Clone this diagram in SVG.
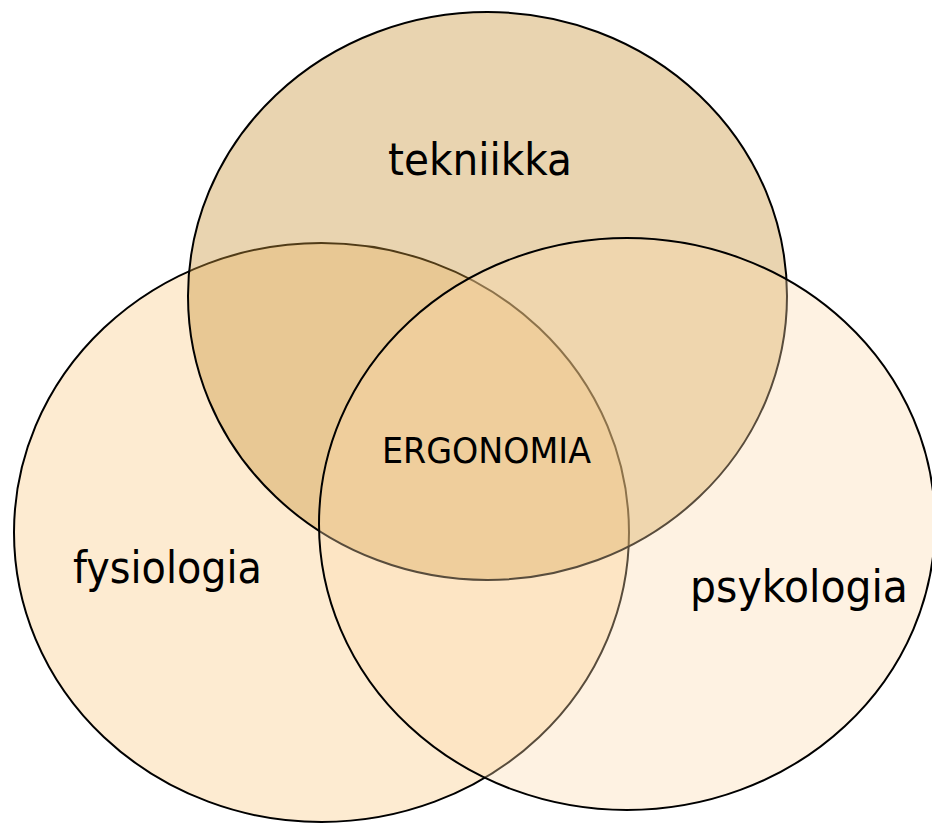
<svg xmlns="http://www.w3.org/2000/svg" width="932" height="824" viewBox="0 0 932 824">
<style>
.c{stroke:#000;stroke-width:2}
.lbl{font-family:"DejaVu Sans","Liberation Sans",sans-serif;fill:#000}
</style>
<rect width="932" height="824" fill="#fff"/>
<g id="fysiologia">
<ellipse class="c" cx="321.5" cy="532.5" rx="307.5" ry="289.5" fill="#FDEBD1"/>
</g>
<g id="tekniikka">
<ellipse class="c" cx="487.5" cy="296" rx="299.5" ry="284" fill="rgb(200,148,58)" fill-opacity="0.4"/>
</g>
<g id="psykologia">
<ellipse class="c" cx="627" cy="524" rx="308" ry="286" fill="rgb(252,218,172)" fill-opacity="0.35"/>
</g>
<g id="labels">
<text class="lbl" x="388" y="175" font-size="44" textLength="184" lengthAdjust="spacingAndGlyphs">tekniikka</text>
<text class="lbl" x="73" y="583" font-size="44" textLength="189" lengthAdjust="spacingAndGlyphs">fysiologia</text>
<text class="lbl" x="690" y="602" font-size="44" textLength="218" lengthAdjust="spacingAndGlyphs">psykologia</text>
<text class="lbl" x="382" y="463" font-size="35" textLength="209" lengthAdjust="spacingAndGlyphs">ERGONOMIA</text>
</g>
<g id="connectors"/>
</svg>
